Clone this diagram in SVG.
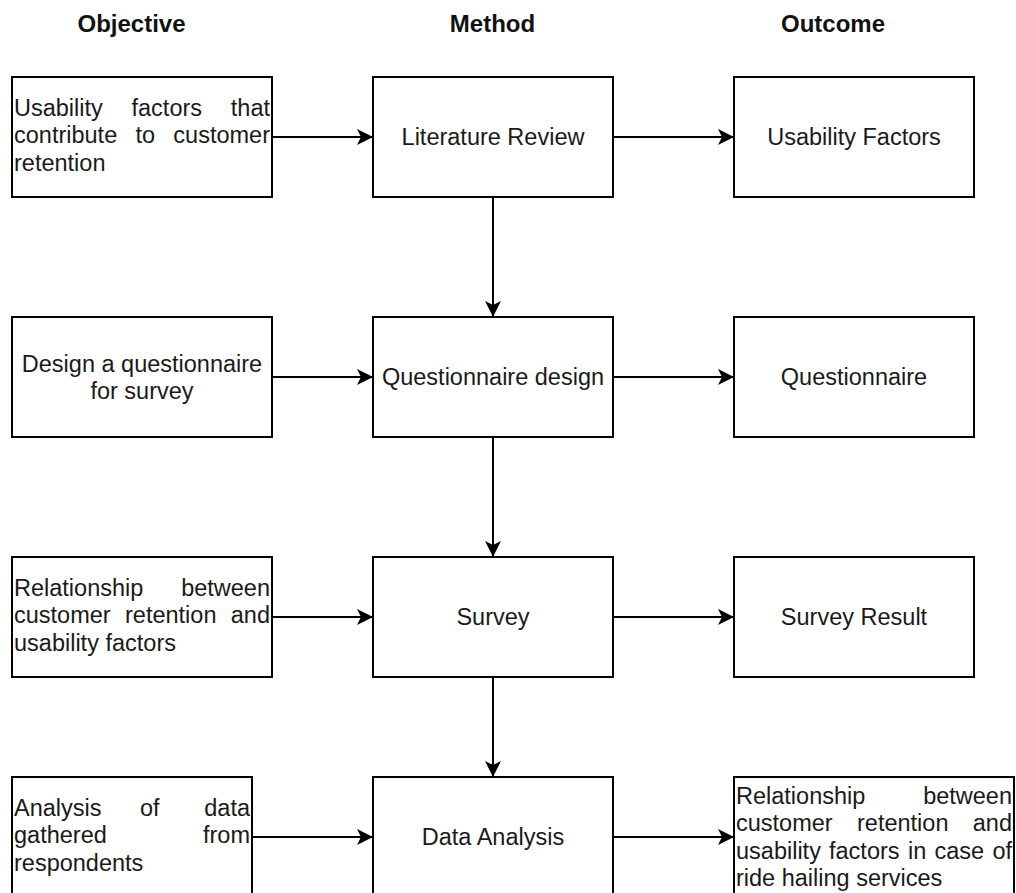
<svg xmlns="http://www.w3.org/2000/svg" width="1016" height="893" viewBox="0 0 1016 893">
  <style>
    .box { fill: #ffffff; stroke: #000000; stroke-width: 2; }
    .t { font-family: "Liberation Sans", Arial, sans-serif; font-size: 23.5px; fill: #1a1a1a; }
    .c { text-anchor: middle; }
    .e { text-anchor: end; }
    .h { font-family: "Liberation Sans", Arial, sans-serif; font-size: 24px; font-weight: bold; fill: #111111; text-anchor: middle; }
    .edge { fill: none; stroke: #000000; stroke-width: 2; }
  </style>
  <defs>
    <marker id="arrow" markerUnits="userSpaceOnUse" markerWidth="18" markerHeight="17" refX="16" refY="8" orient="auto">
      <path d="M0,0 L16,8 L0,16 L4,8 Z" fill="#000000"/>
    </marker>
  </defs>
  <rect width="1016" height="893" fill="#ffffff"/>

  <g id="headers">
    <text class="h" x="131.5" y="32">Objective</text>
    <text class="h" x="492.5" y="32">Method</text>
    <text class="h" x="833" y="32">Outcome</text>
  </g>

  <g id="connectors">
    <line class="edge" x1="272" y1="137" x2="373" y2="137" marker-end="url(#arrow)"/>
    <line class="edge" x1="613" y1="137" x2="734" y2="137" marker-end="url(#arrow)"/>
    <line class="edge" x1="272" y1="377" x2="373" y2="377" marker-end="url(#arrow)"/>
    <line class="edge" x1="613" y1="377" x2="734" y2="377" marker-end="url(#arrow)"/>
    <line class="edge" x1="272" y1="617" x2="373" y2="617" marker-end="url(#arrow)"/>
    <line class="edge" x1="613" y1="617" x2="734" y2="617" marker-end="url(#arrow)"/>
    <line class="edge" x1="252" y1="837" x2="373" y2="837" marker-end="url(#arrow)"/>
    <line class="edge" x1="613" y1="837" x2="734" y2="837" marker-end="url(#arrow)"/>
    <line class="edge" x1="493" y1="197" x2="493" y2="317" marker-end="url(#arrow)"/>
    <line class="edge" x1="493" y1="437" x2="493" y2="557" marker-end="url(#arrow)"/>
    <line class="edge" x1="493" y1="677" x2="493" y2="777" marker-end="url(#arrow)"/>
  </g>

  <g id="obj1">
    <rect class="box" x="12" y="77" width="260" height="120"/>
    <text class="t" x="14" y="115.5">Usability</text>
    <text class="t" x="131.5" y="115.5">factors</text>
    <text class="t e" x="270" y="115.5">that</text>
    <text class="t" x="14" y="143">contribute</text>
    <text class="t" x="135.5" y="143">to</text>
    <text class="t e" x="270" y="143">customer</text>
    <text class="t" x="14" y="170.5">retention</text>
  </g>
  <g id="method1">
    <rect class="box" x="373" y="77" width="240" height="120"/>
    <text class="t c" x="493" y="145">Literature Review</text>
  </g>
  <g id="out1">
    <rect class="box" x="734" y="77" width="240" height="120"/>
    <text class="t c" x="854" y="145">Usability Factors</text>
  </g>

  <g id="obj2">
    <rect class="box" x="12" y="317" width="260" height="120"/>
    <text class="t c" x="142" y="371.5">Design a questionnaire</text>
    <text class="t c" x="142" y="399">for survey</text>
  </g>
  <g id="method2">
    <rect class="box" x="373" y="317" width="240" height="120"/>
    <text class="t c" x="493" y="385">Questionnaire design</text>
  </g>
  <g id="out2">
    <rect class="box" x="734" y="317" width="240" height="120"/>
    <text class="t c" x="854" y="385">Questionnaire</text>
  </g>

  <g id="obj3">
    <rect class="box" x="12" y="557" width="260" height="120"/>
    <text class="t" x="14" y="595.5">Relationship</text>
    <text class="t e" x="270" y="595.5">between</text>
    <text class="t" x="14" y="623">customer</text>
    <text class="t" x="125" y="623">retention</text>
    <text class="t e" x="270" y="623">and</text>
    <text class="t" x="14" y="650.5">usability factors</text>
  </g>
  <g id="method3">
    <rect class="box" x="373" y="557" width="240" height="120"/>
    <text class="t c" x="493" y="625">Survey</text>
  </g>
  <g id="out3">
    <rect class="box" x="734" y="557" width="240" height="120"/>
    <text class="t c" x="854" y="625">Survey Result</text>
  </g>

  <g id="obj4">
    <rect class="box" x="12" y="777" width="240" height="120"/>
    <text class="t" x="14" y="815.5">Analysis</text>
    <text class="t" x="140" y="815.5">of</text>
    <text class="t e" x="250" y="815.5">data</text>
    <text class="t" x="14" y="843">gathered</text>
    <text class="t e" x="250" y="843">from</text>
    <text class="t" x="14" y="870.5">respondents</text>
  </g>
  <g id="method4">
    <rect class="box" x="373" y="777" width="240" height="120"/>
    <text class="t c" x="493" y="845">Data Analysis</text>
  </g>
  <g id="out4">
    <rect class="box" x="734" y="777" width="280" height="120"/>
    <text class="t" x="736" y="803.5">Relationship</text>
    <text class="t e" x="1012" y="803.5">between</text>
    <text class="t" x="736" y="831">customer</text>
    <text class="t" x="857" y="831">retention</text>
    <text class="t e" x="1012" y="831">and</text>
    <text class="t" x="736" y="858.5">usability</text>
    <text class="t" x="829" y="858.5">factors</text>
    <text class="t" x="908" y="858.5">in</text>
    <text class="t" x="934.5" y="858.5">case</text>
    <text class="t e" x="1012" y="858.5">of</text>
    <text class="t" x="736" y="886">ride hailing services</text>
  </g>
</svg>
